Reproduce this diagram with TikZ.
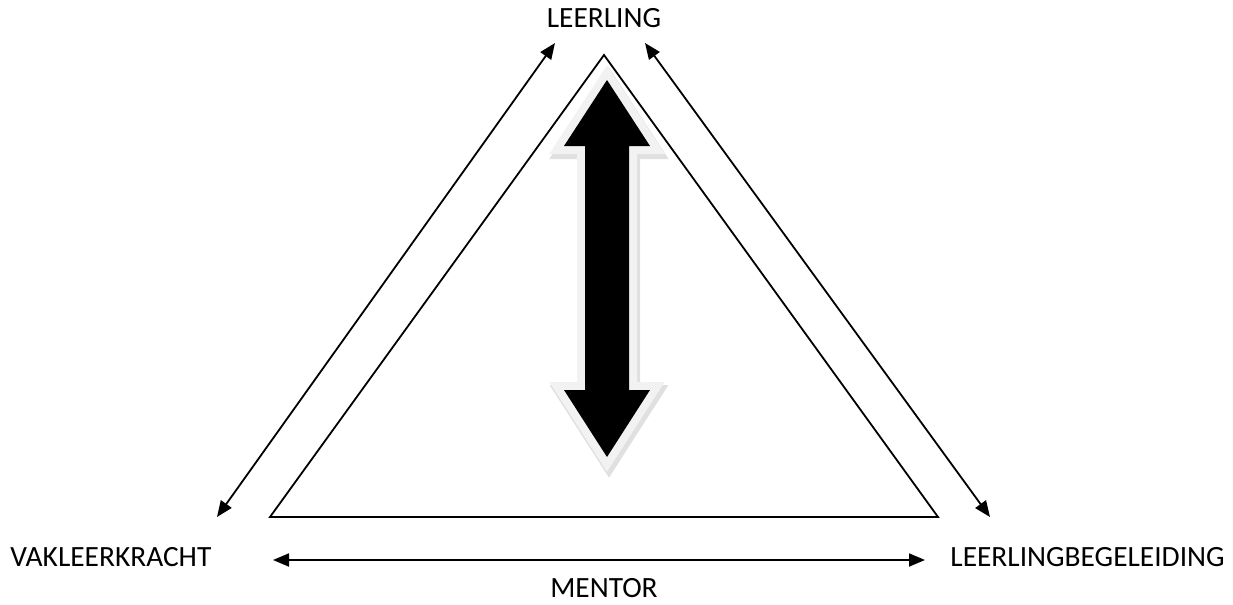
\documentclass[tikz,border=0pt]{standalone}
\usepackage{fontspec}
\setmainfont{Carlito}
\usetikzlibrary{arrows.meta}

\tikzset{
  role/.style={inner sep=0pt, font=\fontsize{14.7}{16}\selectfont},
  link/.style={line width=0.9pt, {Triangle[length=8pt,width=6.5pt]}-{Triangle[length=8pt,width=6.5pt]}}
}

\begin{document}
\begin{tikzpicture}[x=0.5pt, y=-0.5pt]
\useasboundingbox (0,0) rectangle (1233,605);

\def \apex {604}

% labels
\node[role] (leerling) at (\apex,18) {LEERLING};
\node[role] (mentor) at (\apex,588) {MENTOR};
\node[role, anchor=west] (vak) at (10,557) {VAKLEERKRACHT};
\node[role, anchor=west] (begeleiding) at (950,557) {LEERLINGBEGELEIDING};

% triangle
\coordinate (a) at (\apex,55);
\coordinate (b) at (270,517);
\coordinate (c) at (938,517);
\draw[line width=0.9pt, line join=miter] (a) -- (b) -- (c) -- cycle;

% double arrows
\coordinate (l1) at (555,43);
\coordinate (l2) at (217,517);
\coordinate (r1) at (645,43);
\coordinate (r2) at (990,517);
\coordinate (m1) at (273,560);
\coordinate (m2) at (925,560);
\draw[link] (l1) -- (l2);
\draw[link] (r1) -- (r2);
\draw[link] (m1) -- (m2);

% big arrow
\def \bigarrow {(607,80) -- (650,146) -- (629,146) -- (629,390) -- (650,390) -- (607,457)
  -- (564,390) -- (585,390) -- (585,146) -- (564,146) -- cycle}
\draw[black!12, line width=9pt, line join=miter, xshift=1pt, yshift=-2pt] \bigarrow;
\draw[black!5, line width=8pt, line join=miter] \bigarrow;
\fill[black] \bigarrow;
\end{tikzpicture}
\end{document}
